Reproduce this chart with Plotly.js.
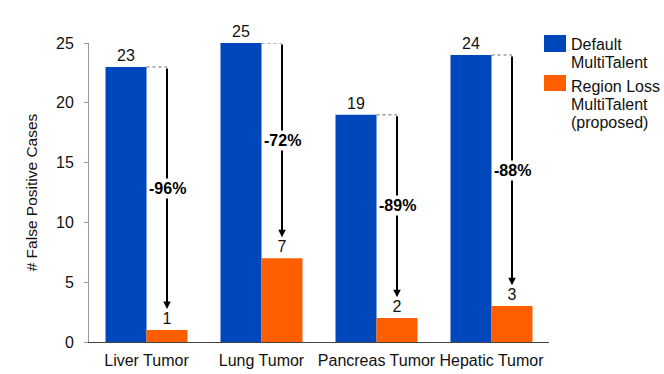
<!DOCTYPE html>
<html>
<head>
<meta charset="utf-8">
<script src="https://cdn.plot.ly/plotly-3.0.1.min.js"></script>
<style>
  html, body { margin: 0; padding: 0; background: #fff; }
  #plot { width: 664px; height: 374px; }
</style>
</head>
<body>
<div id="plot"></div>
<script>
// values
const categories = ['Liver Tumor', 'Lung Tumor', 'Pancreas Tumor', 'Hepatic Tumor'];
const defaultCases = [23, 25, 19, 24];
const regionLossCases = [1, 7, 2, 3];
const changeLabels = ['-96%', '-72%', '-89%', '-88%'];
const seriesNames = [['Default', 'MultiTalent'], ['Region Loss', 'MultiTalent', '(proposed)']];

const blue = '#0047BB';
const orange = '#FF5E00';
const font = '"Liberation Sans", Arial, sans-serif';
const bargap = 0.287;
// centre of the second bar in each group, relative to the category index
const offset = (1 - bargap) / 4;

const traces = [
  {
    x: categories, y: defaultCases, type: 'bar', name: 'Default',
    marker: { color: blue },
    text: defaultCases.map(String), textposition: 'outside',
    textfont: { family: font, size: 16, color: '#111' },
    cliponaxis: false
  },
  {
    x: categories, y: regionLossCases, type: 'bar', name: 'Region Loss',
    marker: { color: orange },
    text: regionLossCases.map(String), textposition: 'outside',
    textfont: { family: font, size: 16, color: '#111' },
    cliponaxis: false
  }
];

const shapes = [];
const annotations = [];

categories.forEach((c, i) => {
  const top = defaultCases[i];
  const tip = regionLossCases[i] + 1.75;
  // dotted guide from the blue bar top to the arrow
  shapes.push({
    type: 'line', xref: 'x', yref: 'y',
    x0: i, x1: i + offset, y0: top, y1: top,
    line: { color: '#9a9a9a', width: 1.5, dash: 'dot' }
  });
  annotations.push({
    xref: 'x', yref: 'y', axref: 'x', ayref: 'y',
    x: i + offset, y: tip, ax: i + offset, ay: top,
    text: '', showarrow: true,
    arrowhead: 2, arrowsize: 0.75, arrowwidth: 2, arrowcolor: '#000'
  });
});

categories.forEach((c, i) => {
  const mid = (defaultCases[i] + regionLossCases[i] + 1.75) / 2;
  annotations.push({
    xref: 'x', yref: 'y', x: i + offset, y: mid,
    text: '<b>' + changeLabels[i] + '</b>', showarrow: false,
    bgcolor: '#fff', borderpad: 1,
    font: { family: font, size: 16, color: '#000' }
  });
});

// hand-drawn legend (large swatches like the reference)
const px = v => (v - 89) / 460;
const py = v => (342 - v) / 299;
const swatches = [[blue, 35, 52], [orange, 75, 91]];
swatches.forEach(s => {
  shapes.push({
    type: 'rect', xref: 'paper', yref: 'paper',
    x0: px(544), x1: px(566), y0: py(s[2]), y1: py(s[1]),
    fillcolor: s[0], line: { width: 0 }
  });
});
const legendFirstLine = [44.5, 86];
seriesNames.forEach((lines, k) => {
  lines.forEach((t, j) => {
    annotations.push({
      xref: 'paper', yref: 'paper', x: px(569), y: py(legendFirstLine[k] + j * 18.3),
      xanchor: 'left', yanchor: 'middle', align: 'left',
      text: t, showarrow: false,
      font: { family: font, size: 16, color: '#111' }
    });
  });
});

const layout = {
  width: 664, height: 374,
  margin: { l: 89, r: 115, t: 43, b: 32 },
  paper_bgcolor: '#fff', plot_bgcolor: '#fff',
  barmode: 'group', bargap: bargap, bargroupgap: 0,
  showlegend: false,
  font: { family: font, size: 16, color: '#111' },
  xaxis: {
    type: 'category', showgrid: false, zeroline: false,
    showline: true, linecolor: '#444', linewidth: 1.2,
    ticks: '', ticklabelstandoff: 4,
    tickfont: { family: font, size: 16, color: '#111' }
  },
  yaxis: {
    range: [0, 25], tickvals: [0, 5, 10, 15, 20, 25],
    showgrid: false, zeroline: false,
    showline: true, linecolor: '#999', linewidth: 1,
    ticks: 'outside', ticklen: 4, tickcolor: '#999', ticklabelstandoff: 7,
    tickfont: { family: font, size: 16, color: '#111' },
    title: { text: '# False Positive Cases', font: { family: font, size: 15.5, color: '#111' }, standoff: 14 }
  },
  shapes: shapes,
  annotations: annotations
};

Plotly.newPlot('plot', traces, layout, { displayModeBar: false, staticPlot: true });
</script>
</body>
</html>
